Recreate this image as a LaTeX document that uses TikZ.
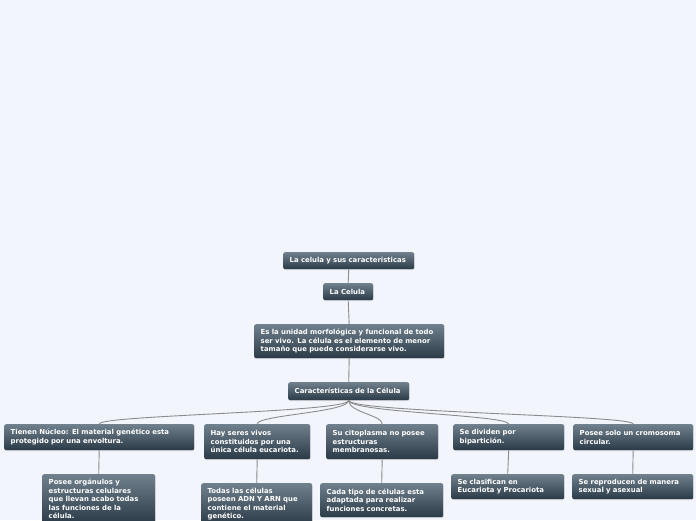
\documentclass[tikz,border=0pt]{standalone}
\usepackage{fontspec}
\setmainfont{DejaVu Sans}
\usetikzlibrary{shadows}
\definecolor{bgcol}{RGB}{243,245,253}
\definecolor{cardtop}{RGB}{112,128,140}
\definecolor{cardbot}{RGB}{42,58,70}
\definecolor{linkcol}{RGB}{140,140,140}
\begin{document}
\begin{tikzpicture}[x=1pt, y=-1pt, card/.style={anchor=north west, rectangle, rounded corners=2pt, top color=cardtop, bottom color=cardbot, text=white, align=left, inner xsep=6.5pt, inner ysep=2pt, font=\fontsize{6.9pt}{8.5pt}\selectfont\bfseries, drop shadow={shadow xshift=0.5pt, shadow yshift=-0.8pt, opacity=0.25}}, link/.style={draw=linkcol, line width=0.9pt}]
	\fill[bgcol] (0,0) rectangle (696,520);
	\clip (0,0) rectangle (696,520);
	\node[card, text width=118pt, minimum height=17pt] (title) at (283,252) {La celula y sus caracteristicas};
	\node[card, text width=37pt, minimum height=17pt] (celula) at (323,283) {La Celula};
	\node[card, text width=177pt, minimum height=34pt] (desc) at (254,324) {Es la unidad morfológica y funcional de todo\\ser vivo. La célula es el elemento de menor\\tamaño que puede considerarse vivo.};
	\node[card, text width=108pt, minimum height=18pt] (carac) at (288,382) {Características de la Célula};
	\node[card, text width=177pt, minimum height=26pt] (nucleo) at (4,424) {Tienen Núcleo: El material genético esta\\protegido por una envoltura.};
	\node[card, text width=93pt, minimum height=35pt] (seres) at (204,424) {Hay seres vivos\\constituidos por una\\única célula eucariota.};
	\node[card, text width=99pt, minimum height=35pt] (citop) at (326,424) {Su citoplasma no posee\\estructuras\\membranosas.};
	\node[card, text width=98pt, minimum height=26pt] (divid) at (453,424) {Se dividen por\\bipartición.};
	\node[card, text width=107pt, minimum height=26pt] (cromo) at (573,424) {Posee solo un cromosoma\\circular.};
	\node[card, text width=100pt, minimum height=50pt] (organ) at (42,474) {Posee orgánulos y\\estructuras celulares\\que llevan acabo todas\\las funciones de la\\célula.};
	\node[card, text width=98pt, minimum height=42pt] (adn) at (201,483) {Todas las células\\poseen ADN Y ARN que\\contiene el material\\genético.};
	\node[card, text width=110pt, minimum height=34pt] (tipo) at (320,483) {Cada tipo de células esta\\adaptada para realizar\\funciones concretas.};
	\node[card, text width=100pt, minimum height=25pt] (clasif) at (451,474) {Se clasifican en\\Eucariota y Procariota};
	\node[card, text width=108pt, minimum height=25pt] (reprod) at (572,474) {Se reproducen de manera\\sexual y asexual};
	\draw[link] (title.south) -- (celula.north);
	\draw[link] (celula.south) -- (desc.north);
	\draw[link] (desc.south) -- (carac.north);
	\foreach \kid in {nucleo,seres,citop,divid,cromo}
		\draw[link] (carac.south) .. controls +(0,12) and +(0,-9) .. (\kid.north);
	\draw[link] (nucleo.south) -- (organ.north);
	\draw[link] (seres.south) -- (adn.north);
	\draw[link] (citop.south) -- (tipo.north);
	\draw[link] (divid.south) -- (clasif.north);
	\draw[link] (cromo.south) -- (reprod.north);
\end{tikzpicture}
\end{document}
